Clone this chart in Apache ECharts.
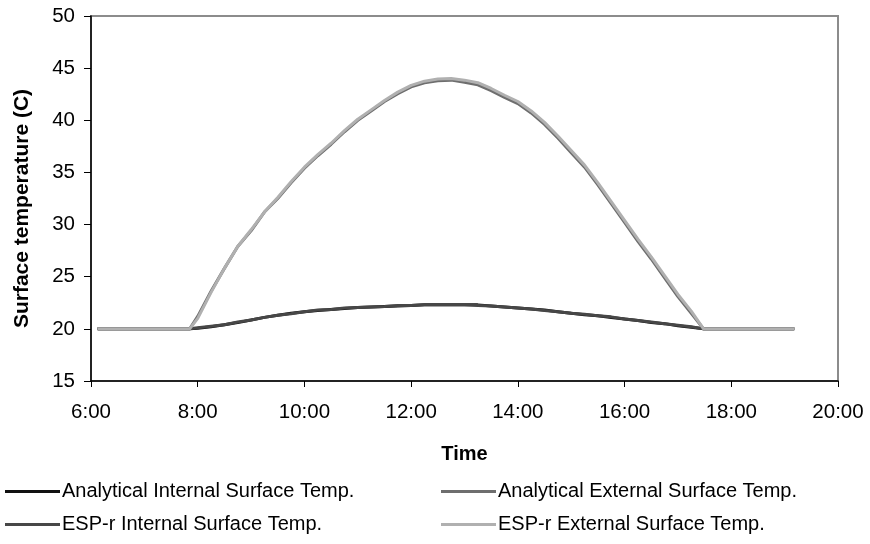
<!DOCTYPE html>
<html><head><meta charset="utf-8">
<script src="https://cdn.jsdelivr.net/npm/echarts@6/dist/echarts.min.js"></script>
<style>html,body{margin:0;padding:0;background:#fff}#c{width:870px;height:544px}</style>
</head><body><div id="c"></div>
<script>
const times = [6.125, 7.0, 7.85, 8.0, 8.25, 8.5, 8.75, 9.0, 9.25, 9.5, 9.75, 10.0, 10.25, 10.5, 10.75, 11.0, 11.25, 11.5, 11.75, 12.0, 12.25, 12.5, 12.75, 13.0, 13.25, 13.5, 13.75, 14.0, 14.25, 14.5, 14.75, 15.0, 15.25, 15.5, 15.75, 16.0, 16.25, 16.5, 16.75, 17.0, 17.25, 17.48, 18.0, 19.18];
const analyticalInternal = [20, 20, 20, 20.05, 20.2, 20.4, 20.6, 20.85, 21.1, 21.3, 21.5, 21.65, 21.75, 21.85, 21.95, 22.05, 22.1, 22.15, 22.2, 22.25, 22.3, 22.3, 22.3, 22.3, 22.3, 22.2, 22.1, 22.0, 21.9, 21.8, 21.65, 21.5, 21.35, 21.25, 21.1, 20.95, 20.8, 20.6, 20.5, 20.3, 20.15, 20, 20, 20];
const analyticalExternal = [20, 20, 20, 21.2, 23.6, 25.8, 27.9, 29.4, 31.2, 32.5, 34.0, 35.4, 36.6, 37.7, 38.9, 40.0, 40.9, 41.8, 42.55, 43.2, 43.6, 43.8, 43.85, 43.65, 43.4, 42.85, 42.2, 41.6, 40.7, 39.6, 38.3, 36.9, 35.5, 33.8, 32.0, 30.2, 28.4, 26.7, 24.9, 23.1, 21.5, 20, 20, 20];
const esprInternal = [20, 20, 20, 20.1, 20.25, 20.4, 20.65, 20.85, 21.1, 21.3, 21.45, 21.65, 21.8, 21.85, 22.0, 22.05, 22.1, 22.15, 22.25, 22.25, 22.3, 22.3, 22.3, 22.3, 22.25, 22.2, 22.1, 22.0, 21.9, 21.75, 21.65, 21.5, 21.4, 21.25, 21.15, 20.95, 20.8, 20.65, 20.5, 20.35, 20.2, 20, 20, 20];
const esprExternal = [20, 20, 20, 21.0, 23.5, 25.8, 27.9, 29.5, 31.2, 32.6, 34.1, 35.5, 36.7, 37.8, 39.0, 40.1, 41.0, 41.9, 42.7, 43.35, 43.75, 43.95, 44.0, 43.85, 43.6, 43.05, 42.4, 41.8, 40.9, 39.8, 38.5, 37.1, 35.7, 34.0, 32.2, 30.4, 28.6, 26.9, 25.1, 23.3, 21.7, 20, 20, 20];
const seriesNames = ['Analytical Internal Surface Temp.', 'Analytical External Surface Temp.', 'ESP-r Internal Surface Temp.', 'ESP-r External Surface Temp.'];
const xTicks = [6, 8, 10, 12, 14, 16, 18, 20];
const yTicks = [15, 20, 25, 30, 35, 40, 45, 50];

const colors = ['#111111', '#6e6e6e', '#474747', '#b0b0b0'];
const values = [analyticalInternal, analyticalExternal, esprInternal, esprExternal];
const font = 'Arial, "Liberation Sans", sans-serif';

const chart = echarts.init(document.getElementById('c'), null, {renderer: 'canvas'});
const legendCommon = {
  orient: 'vertical', icon: 'rect', itemWidth: 55, itemHeight: 3, itemGap: 12,
  textStyle: {fontFamily: font, fontSize: 20, color: '#000', lineHeight: 21, padding: [0, 0, 0, -3]},
  padding: 0
};
chart.setOption({
  animation: false,
  color: colors,
  grid: {left: 91, right: 32, top: 16, bottom: 163, show: true, borderColor: '#8c8c8c', borderWidth: 2, backgroundColor: '#fff'},
  legend: [
    Object.assign({}, legendCommon, {left: 5, top: 481, data: [seriesNames[0], seriesNames[2]]}),
    Object.assign({}, legendCommon, {left: 441, top: 481, data: [seriesNames[1], seriesNames[3]]})
  ],
  xAxis: {
    type: 'value', min: xTicks[0], max: xTicks[xTicks.length - 1], interval: 2,
    name: 'Time', nameLocation: 'middle', nameGap: 63,
    nameTextStyle: {fontFamily: font, fontSize: 20, fontWeight: 'bold', color: '#000'},
    axisLine: {show: true, lineStyle: {color: '#000', width: 1.5}},
    axisTick: {show: true, length: 6, inside: false, lineStyle: {color: '#000'}},
    axisLabel: {fontFamily: font, fontSize: 20.5, color: '#000', margin: 21, formatter: v => v + ':00'},
    splitLine: {show: false}
  },
  yAxis: {
    type: 'value', min: yTicks[0], max: yTicks[yTicks.length - 1], interval: 5,
    name: 'Surface temperature (C)', nameLocation: 'middle', nameGap: 58,
    nameTextStyle: {fontFamily: font, fontSize: 21, fontWeight: 'bold', color: '#000', padding: [0, 20, 0, 0]},
    axisLine: {show: true, lineStyle: {color: '#000', width: 1.5}},
    axisTick: {show: true, length: 7, lineStyle: {color: '#000'}},
    axisLabel: {fontFamily: font, fontSize: 20.5, color: '#000', margin: 16},
    splitLine: {show: false}
  },
  series: seriesNames.map((n, i) => ({
    name: n, type: 'line', showSymbol: false, symbol: 'none',
    lineStyle: {width: 3, color: colors[i]},
    itemStyle: {color: colors[i]},
    data: times.map((t, k) => [t, values[i][k]])
  }))
});
</script></body></html>
